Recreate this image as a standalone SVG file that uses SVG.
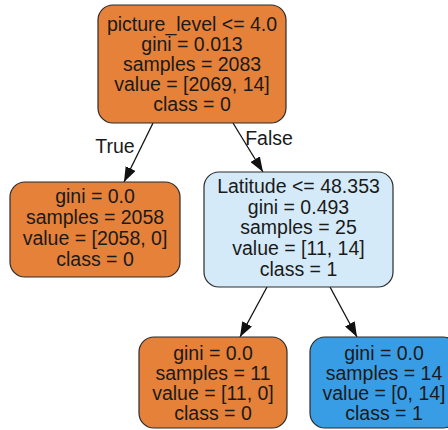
<svg xmlns="http://www.w3.org/2000/svg" width="448" height="430" viewBox="0 0 448 430">
  <style>
    .box { stroke: #2b2b2b; stroke-width: 1.2; }
    .c0 { fill: #e58139; }
    .c1 { fill: #399de5; }
    .mix { fill: #d5eaf9; }
    text { font-family: "Liberation Sans", Arial, Helvetica, sans-serif; font-size: 19.5px; fill: #1a1a1a; text-anchor: middle; }
    .edge { stroke: #111; stroke-width: 1.3; fill: none; }
  </style>
  <defs>
    <marker id="arrow" viewBox="0 0 15 11" refX="15" refY="5.5" markerWidth="15" markerHeight="11" markerUnits="userSpaceOnUse" orient="auto">
      <path d="M0,0 L15,5.5 L0,11 Z" fill="#111"/>
    </marker>
  </defs>

  <!-- connectors -->
  <g id="edges">
    <line class="edge" x1="153" y1="123" x2="124" y2="182" marker-end="url(#arrow)"/>
    <line class="edge" x1="233" y1="123" x2="263" y2="172" marker-end="url(#arrow)"/>
    <line class="edge" x1="267" y1="287" x2="240" y2="337" marker-end="url(#arrow)"/>
    <line class="edge" x1="330" y1="287" x2="357" y2="337" marker-end="url(#arrow)"/>
    <text x="115" y="153">True</text>
    <text x="269" y="145">False</text>
  </g>

  <!-- root split -->
  <g id="node0">
    <rect class="box c0" x="98" y="5" width="188" height="118" rx="15"/>
    <text x="192" y="31">picture_level &lt;= 4.0</text>
    <text x="192" y="51">gini = 0.013</text>
    <text x="192" y="71">samples = 2083</text>
    <text x="192" y="91">value = [2069, 14]</text>
    <text x="192" y="111">class = 0</text>
  </g>

  <!-- left leaf -->
  <g id="node1">
    <rect class="box c0" x="10" y="182" width="170" height="95" rx="15"/>
    <text x="95" y="203">gini = 0.0</text>
    <text x="95" y="224">samples = 2058</text>
    <text x="95" y="245">value = [2058, 0]</text>
    <text x="95" y="265.5">class = 0</text>
  </g>

  <!-- second split -->
  <g id="node2">
    <rect class="box mix" x="204" y="172" width="189" height="115" rx="15"/>
    <text x="298.5" y="193">Latitude &lt;= 48.353</text>
    <text x="298.5" y="213.5">gini = 0.493</text>
    <text x="298.5" y="234">samples = 25</text>
    <text x="298.5" y="255">value = [11, 14]</text>
    <text x="298.5" y="275.5">class = 1</text>
  </g>

  <!-- bottom leaves -->
  <g id="node3">
    <rect class="box c0" x="139" y="337" width="148" height="91" rx="15"/>
    <text x="213" y="359.5">gini = 0.0</text>
    <text x="213" y="379.5">samples = 11</text>
    <text x="213" y="400">value = [11, 0]</text>
    <text x="213" y="420">class = 0</text>
  </g>

  <g id="node4">
    <rect class="box c1" x="310" y="337" width="148" height="91" rx="15"/>
    <text x="384" y="359.5">gini = 0.0</text>
    <text x="384" y="379.5">samples = 14</text>
    <text x="384" y="400">value = [0, 14]</text>
    <text x="384" y="420">class = 1</text>
  </g>
</svg>
